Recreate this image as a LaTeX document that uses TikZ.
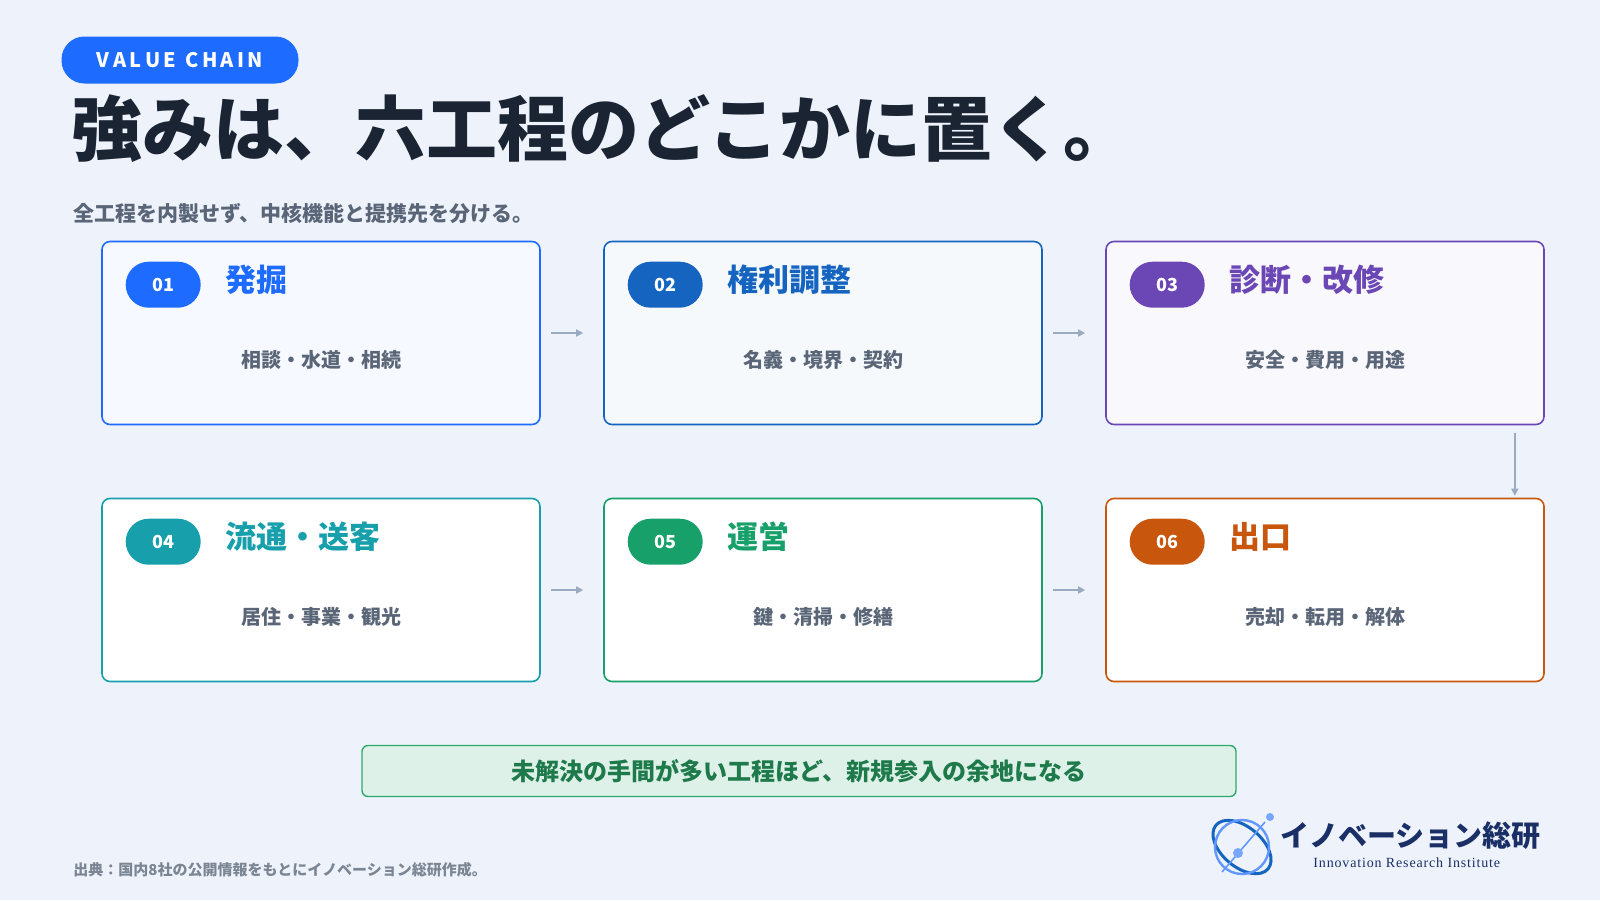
\documentclass[tikz,border=0pt]{standalone}
\usepackage{fontspec}
\setmainfont{Noto Sans CJK JP}
\newfontfamily\logoserif{Liberation Serif}[LetterSpace=6]
\usetikzlibrary{positioning}
\usetikzlibrary{arrows.meta}
\definecolor{bgpage}{HTML}{EEF3FB}
\definecolor{inkdark}{HTML}{1A2433}
\definecolor{inkgray}{HTML}{5A6678}
\definecolor{arrowgray}{HTML}{9AAABF}
\definecolor{cA}{HTML}{1E6BFF}
\definecolor{cB}{HTML}{1565C0}
\definecolor{cC}{HTML}{6B46B5}
\definecolor{cD}{HTML}{17A0AC}
\definecolor{cE}{HTML}{17A06A}
\definecolor{cF}{HTML}{C8560C}
\definecolor{noteedge}{HTML}{2FA86E}
\definecolor{notefill}{HTML}{DDF1E8}
\definecolor{notetext}{HTML}{1E7A4A}
\definecolor{logoblue}{HTML}{1A2F66}
\tikzset{
  step/.style={draw=#1,line width=0.8pt,rounded corners=4pt,minimum width=219pt,minimum height=91.5pt,inner sep=0pt},
  badge/.style={fill=#1,rounded corners=11.5pt,minimum width=37.5pt,minimum height=23pt,text=white,font=\fontsize{9}{9}\selectfont\bfseries,inner sep=0pt},
  head/.style={text=#1,font=\fontsize{15.5}{16}\selectfont\bfseries,anchor=west,inner sep=0pt},
  body/.style={text=inkgray,font=\fontsize{10}{10}\selectfont\bfseries,inner sep=0pt},
  flow/.style={-{Triangle[length=3.5pt,width=3.5pt]},draw=arrowgray,line width=0.8pt}
}
\begin{document}
\begin{tikzpicture}[x=0.5pt,y=-0.5pt]
\fill[bgpage] (0,0) rectangle (1600,900);
\useasboundingbox (0,0) rectangle (1600,900);
% header
\node[fill=cA,rounded corners=11.5pt,minimum width=118.5pt,minimum height=23.5pt,text=white,font=\fontsize{10}{10}\selectfont\bfseries,inner sep=0pt] (tag) at (180,60) {V\,A\,L\,U\,E\ \ C\,H\,A\,I\,N};
\node[anchor=west,text=inkdark,font=\fontsize{35.5}{36}\selectfont\bfseries,inner sep=0pt] (title) at (71,129) {強みは、六工程のどこかに置く。};
\node[anchor=west,text=inkgray,font=\fontsize{10.5}{11}\selectfont\bfseries,inner sep=0pt] (sub) at (73,214) {全工程を内製せず、中核機能と提携先を分ける。};
% six steps
\foreach \i/\x/\y/\c/\fillc/\h/\t in {
  1/321/333/cA/{cA!4!white}/発掘/相談・水道・相続,
  2/823/333/cB/{cB!4!white}/権利調整/名義・境界・契約,
  3/1325/333/cC/{cC!4!white}/診断・改修/安全・費用・用途,
  4/321/590/cD/white/流通・送客/居住・事業・観光,
  5/823/590/cE/white/運営/鍵・清掃・修繕,
  6/1325/590/cF/white/出口/売却・転用・解体}{
  \node[step=\c,fill=\fillc] (s\i) at (\x,\y) {};
  \node[badge=\c] (b\i) at ([xshift=31pt,yshift=-22pt]s\i.north west) {0\i};
  \node[head=\c] (h\i) at ([xshift=62pt,yshift=-19.5pt]s\i.north west) {\h};
  \node[body] (t\i) at ([yshift=-13.5pt]s\i.center) {\t};
}
\draw[flow] ([xshift=5pt]s1.east) -- ([xshift=-10pt]s2.west);
\draw[flow] ([xshift=5pt]s2.east) -- ([xshift=-10pt]s3.west);
\draw[flow] ([xshift=5pt]s4.east) -- ([xshift=-10pt]s5.west);
\draw[flow] ([xshift=5pt]s5.east) -- ([xshift=-10pt]s6.west);
\draw[flow] ([xshift=-15pt,yshift=-4pt]s3.south east) -- ([xshift=-15pt,yshift=1pt]s6.north east);
% note and footer
\node[draw=noteedge,fill=notefill,line width=0.7pt,rounded corners=3pt,minimum width=437pt,minimum height=25.5pt,text=notetext,font=\fontsize{12}{12}\selectfont\bfseries] (note) at (799,771) {未解決の手間が多い工程ほど、新規参入の余地になる};
\node[anchor=west,text=inkgray!80,font=\fontsize{7.5}{8}\selectfont\bfseries,inner sep=0pt] (src) at (73,870) {出典：国内8社の公開情報をもとにイノベーション総研作成。};
% logo
\draw[cB,line width=1.5pt,rotate around={-40:(1242,847)}] (1242,847) ellipse (34 and 20);
\draw[cA!70,line width=1.2pt] (1242,847) circle (27);
\draw[cA!70,line width=0.8pt] (1222,872) -- (1265,822);
\fill[cA!60] (1270,817) circle (4);
\fill[cA!60] (1238,853) circle (5);
\node[anchor=west,text=logoblue,font=\fontsize{14.5}{15}\selectfont\bfseries,inner sep=0pt] (logo) at (1280,836) {イノベーション総研};
\node[anchor=west,text=logoblue,font=\logoserif\fontsize{7}{7}\selectfont,inner sep=0pt] (logoen) at (1313,863) {Innovation Research Institute};
\end{tikzpicture}
\end{document}
